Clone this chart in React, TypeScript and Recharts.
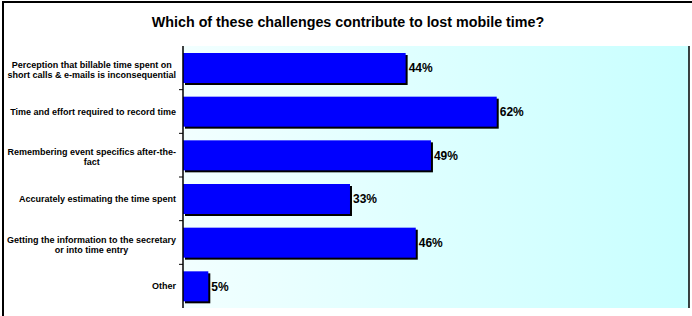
import React from "react";
import { BarChart, Bar, XAxis, YAxis, CartesianGrid, LabelList, ReferenceLine } from "recharts";

const categories = [
  "Perception that billable time spent on\nshort calls & e-mails is inconsequential",
  "Time and effort required to record time",
  "Remembering event specifics after-the-\nfact",
  "Accurately estimating the time spent",
  "Getting the information to the secretary\nor into time entry",
  "Other",
];
const percents = [44, 62, 49, 33, 46, 5];

const data = categories.map((c, i) => ({ name: c, value: percents[i] }));

const FONT = "'Liberation Sans', Arial, Helvetica, sans-serif";

let ctx: CanvasRenderingContext2D | null = null;
function measure(s: string) {
  if (!ctx) ctx = document.createElement("canvas").getContext("2d");
  if (!ctx) return s.length * 4.5;
  ctx.font = `bold 9px ${FONT}`;
  return ctx.measureText(s).width;
}

// label block is right aligned, lines centred inside it (excel style);
// also draws the small tick between categories
function CategoryTick(props: any) {
  const { x, y, payload, index, visibleTicksCount } = props;
  const lines: string[] = String(payload.value).split("\n");
  const lh = 10;
  const half = payload.offset || 0;
  const sep =
    index < visibleTicksCount - 1 ? (
      <line x1={x + 3} x2={x + 7} y1={y + half} y2={y + half} stroke="#000" />
    ) : null;
  if (lines.length === 1) {
    return (
      <g>
        {sep}
        <text x={x} y={y} dy="0.35em" textAnchor="end" fontSize={9} fontWeight="bold" fontFamily={FONT} fill="#000">
          {lines[0]}
        </text>
      </g>
    );
  }
  const w = Math.max(...lines.map(measure));
  const cx = x - w / 2;
  const start = y - ((lines.length - 1) * lh) / 2 + 2;
  return (
    <g>
      {sep}
      <text textAnchor="middle" fontSize={9} fontWeight="bold" fontFamily={FONT} fill="#000">
        {lines.map((l, i) => (
          <tspan key={i} x={cx} y={start + i * lh} dy="0.35em">
            {l}
          </tspan>
        ))}
      </text>
    </g>
  );
}

function ShadowBar(props: any) {
  const { x, y, width, height } = props;
  return (
    <g>
      <rect x={x + 2} y={y + 2} width={width} height={height} fill="#000" />
      <rect x={x} y={y} width={width} height={height} fill="#0000FF" />
    </g>
  );
}

export default function App() {
  return (
    <div style={styles.page}>
      <div style={styles.title}>Which of these challenges contribute to lost mobile time?</div>
      <div style={{ position: "absolute", left: 0, top: 0 }}>
        <BarChart
          width={692}
          height={316}
          data={data}
          layout="vertical"
          margin={{ top: 46, right: 3, bottom: 8, left: 8 }}
          barSize={30}
        >
          <defs>
            <linearGradient id="plotBg" x1="0" y1="0" x2="1" y2="0">
              <stop offset="0%" stopColor="#F2FFFF" />
              <stop offset="100%" stopColor="#C8FFFF" />
            </linearGradient>
          </defs>
          <CartesianGrid horizontal={false} vertical={false} fill="url(#plotBg)" />
          <XAxis type="number" domain={[0, 100]} tick={false} tickLine={false} height={0} axisLine={{ stroke: "#000", strokeWidth: 1.5 }} />
          <XAxis xAxisId="top" orientation="top" type="number" domain={[0, 100]} tick={false} tickLine={false} height={0} axisLine={{ stroke: "#808080" }} />
          <YAxis
            type="category"
            dataKey="name"
            width={175}
            tickLine={false}
            tickSize={0}
            tickMargin={7}
            axisLine={{ stroke: "#000", strokeWidth: 1.5 }}
            tick={<CategoryTick />}
            interval={0}
          />
          <ReferenceLine x={100} stroke="#000" strokeWidth={1.5} />
          <Bar dataKey="value" shape={<ShadowBar />} isAnimationActive={false}>
            <LabelList
              dataKey="value"
              position="right"
              offset={3}
              formatter={(v: any) => `${v}%`}
              style={{ fontSize: 12, fontWeight: "bold", fontFamily: FONT, fill: "#000" }}
            />
          </Bar>
        </BarChart>
      </div>
      <div style={styles.frame} />
    </div>
  );
}

const styles: Record<string, React.CSSProperties> = {
  page: { position: "absolute", left: 0, top: 0, width: 692, height: 316, background: "#fff", overflow: "hidden" },
  frame: {
    position: "absolute",
    left: 2,
    top: 1,
    width: 720,
    height: 340,
    borderTop: "2px solid #000",
    borderLeft: "2px solid #000",
    zIndex: 2,
    pointerEvents: "none",
  },
  title: {
    position: "absolute",
    left: 0,
    top: 15,
    width: 696,
    textAlign: "center",
    fontFamily: FONT,
    fontWeight: "bold",
    fontSize: 14.3,
    lineHeight: "14px",
    color: "#000",
    zIndex: 1,
  },
};
